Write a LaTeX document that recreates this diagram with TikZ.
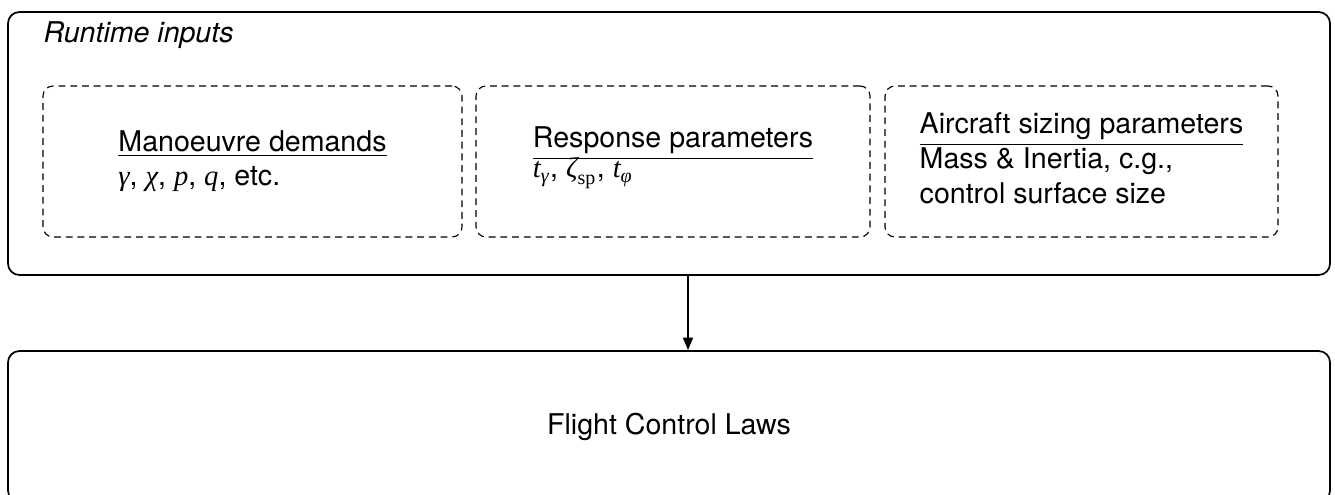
\documentclass[tikz,border=0pt]{standalone}
\usepackage{amsmath}
\usepackage{fontspec}
\setmainfont{TeX Gyre Heros}
\newfontfamily\mathserif{Liberation Serif}
\newcommand\mv[1]{\text{\mathserif\itshape #1}}
\newcommand\mr[1]{\text{\mathserif #1}}
\usepackage{tikz}
\usetikzlibrary{arrows.meta,positioning}

\tikzset{
  outerbox/.style={shape=rectangle, draw=black, line width=0.6pt, rounded corners=4pt,
                   minimum width=462.7pt, inner sep=0pt},
  inputbox/.style={shape=rectangle, draw=black, line width=0.4pt, dash pattern=on 2.4pt off 1.7pt,
                   rounded corners=3.5pt, minimum height=52.85pt, inner sep=0pt}
}

\begin{document}
\begin{tikzpicture}
      \useasboundingbox (0pt,0pt) rectangle (467.25pt,-173.25pt);

      \node[outerbox, minimum height=92.05pt] (Inputs) at (234.15pt,-50.225pt) {};
      \node[anchor=base west, inner sep=0pt] (Title) at (15.05pt,-15.05pt)
           {\itshape Runtime inputs};

      \node[inputbox, minimum width=146.65pt] (Manoeuvre) at (88.375pt,-56.525pt)
           {\begin{tabular}{@{}l@{}}
              \underline{Manoeuvre demands}\\
              $\mv{γ}$, $\mv{χ}$, $\mv{p}$, $\mv{q}$, etc.
            \end{tabular}};
      \node[inputbox, minimum width=137.9pt] (Response)
           [right = 4.5pt of Manoeuvre]
           {\begin{tabular}{@{}l@{}}
              Response parameters\\ \hline \noalign{\vskip-1.8pt}
              $\mv{t}_{\mv{γ}}$, $\mv{ζ}_{\mr{sp}}$, $\mv{t}_{\mv{φ}}$\\ \noalign{\vskip3.8pt}
            \end{tabular}};
      \node[inputbox, minimum width=137.55pt] (Sizing)
           [right = 4.85pt of Response]
           {\begin{tabular}{@{}l@{}}
              Aircraft sizing parameters\\ \hline
              Mass \& Inertia, c.g.,\\
              control surface size
            \end{tabular}};

      \node[outerbox, minimum height=52.85pt] (Laws)
           [below = 26pt of Inputs] {Flight Control Laws};

      \path [-{Triangle[length=4.4pt,width=3.5pt]}, line width=0.6pt]
            ([xshift=6.65pt]Inputs.south) edge ([xshift=6.65pt]Laws.north);
\end{tikzpicture}
\end{document}
